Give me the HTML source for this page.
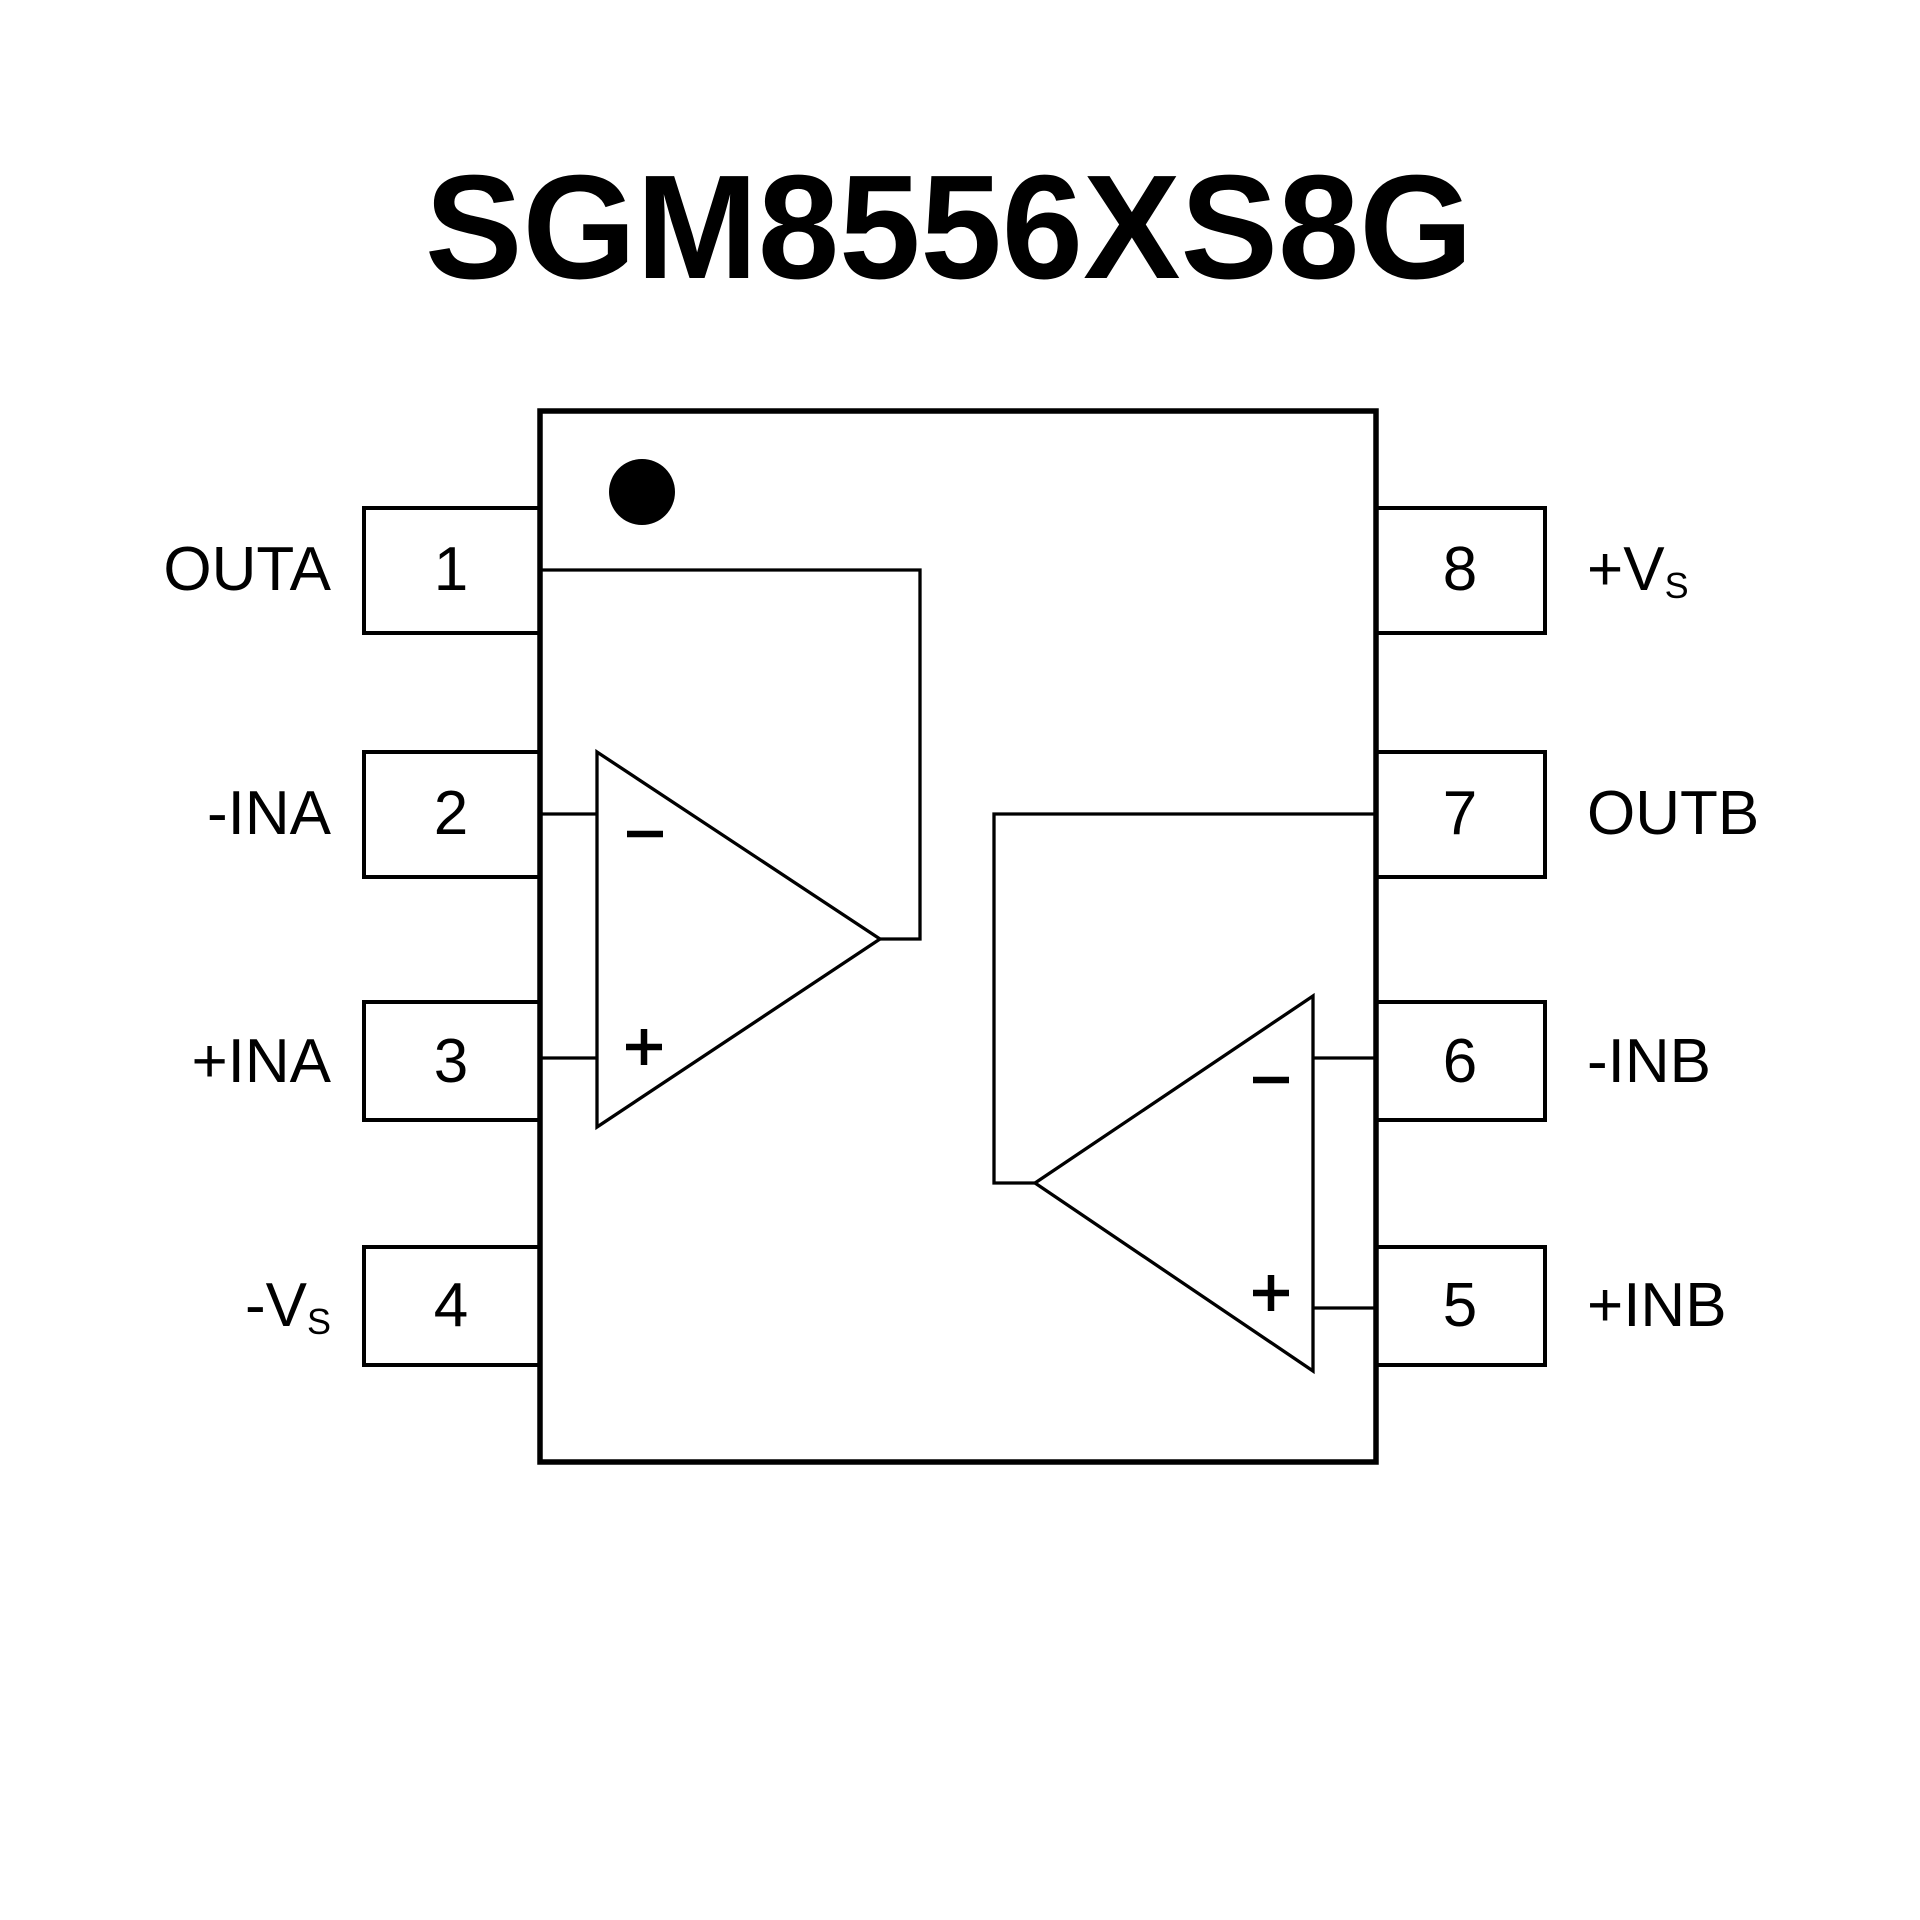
<!DOCTYPE html>
<html><head><meta charset="utf-8"><style>html,body{margin:0;padding:0;background:#fff}svg{display:block}</style></head>
<body>
<svg width="1920" height="1920" viewBox="0 0 1920 1920" xmlns="http://www.w3.org/2000/svg" font-family="'Liberation Sans', Arial, sans-serif">
<rect width="1920" height="1920" fill="#fff"/>
<text x="949" y="278" text-anchor="middle" font-size="148" font-weight="bold" textLength="1048" lengthAdjust="spacingAndGlyphs">SGM8556XS8G</text>
<g fill="none" stroke="#000" stroke-linejoin="miter">
<rect x="540" y="411" width="836" height="1051" stroke-width="5.5"/>
<g stroke-width="4">
<rect x="364" y="508" width="176" height="125"/>
<rect x="364" y="752" width="176" height="125"/>
<rect x="364" y="1002" width="176" height="118"/>
<rect x="364" y="1247" width="176" height="118"/>
<rect x="1376" y="508" width="169" height="125"/>
<rect x="1376" y="752" width="169" height="125"/>
<rect x="1376" y="1002" width="169" height="118"/>
<rect x="1376" y="1247" width="169" height="118"/>
</g>
<g stroke-width="3.3">
<polygon points="597,752 880,939 597,1127"/>
<polyline points="540,570 920,570 920,939 880,939"/>
<line x1="540" y1="814" x2="597" y2="814"/>
<line x1="540" y1="1058" x2="597" y2="1058"/>
<polygon points="1313,996 1035,1183 1313,1371"/>
<polyline points="1376,814 994,814 994,1183 1035,1183"/>
<line x1="1313" y1="1058" x2="1376" y2="1058"/>
<line x1="1313" y1="1308" x2="1376" y2="1308"/>
</g>
<g stroke-width="6.5">
<line x1="627" y1="834" x2="663" y2="834"/>
<line x1="626" y1="1047" x2="662" y2="1047"/>
<line x1="644" y1="1029" x2="644" y2="1065"/>
<line x1="1253" y1="1080" x2="1289" y2="1080"/>
<line x1="1253" y1="1293" x2="1289" y2="1293"/>
<line x1="1271" y1="1275" x2="1271" y2="1311"/>
</g>
</g>
<circle cx="642" cy="492" r="33" fill="#000"/>
<g font-size="62" text-anchor="middle">
<text x="451" y="590">1</text>
<text x="451" y="834">2</text>
<text x="451" y="1082">3</text>
<text x="451" y="1326">4</text>
<text x="1460" y="590">8</text>
<text x="1460" y="834">7</text>
<text x="1460" y="1082">6</text>
<text x="1460" y="1326">5</text>
</g>
<g font-size="62" text-anchor="end">
<text x="331" y="590">OUTA</text>
<text x="331" y="834">-INA</text>
<text x="331" y="1082">+INA</text>
<text x="331" y="1326">-V<tspan font-size="36" dy="8">S</tspan></text>
</g>
<g font-size="62">
<text x="1587" y="590">+V<tspan font-size="36" dy="8">S</tspan></text>
<text x="1587" y="834">OUTB</text>
<text x="1587" y="1082">-INB</text>
<text x="1587" y="1326">+INB</text>
</g>
</svg>
</body></html>
